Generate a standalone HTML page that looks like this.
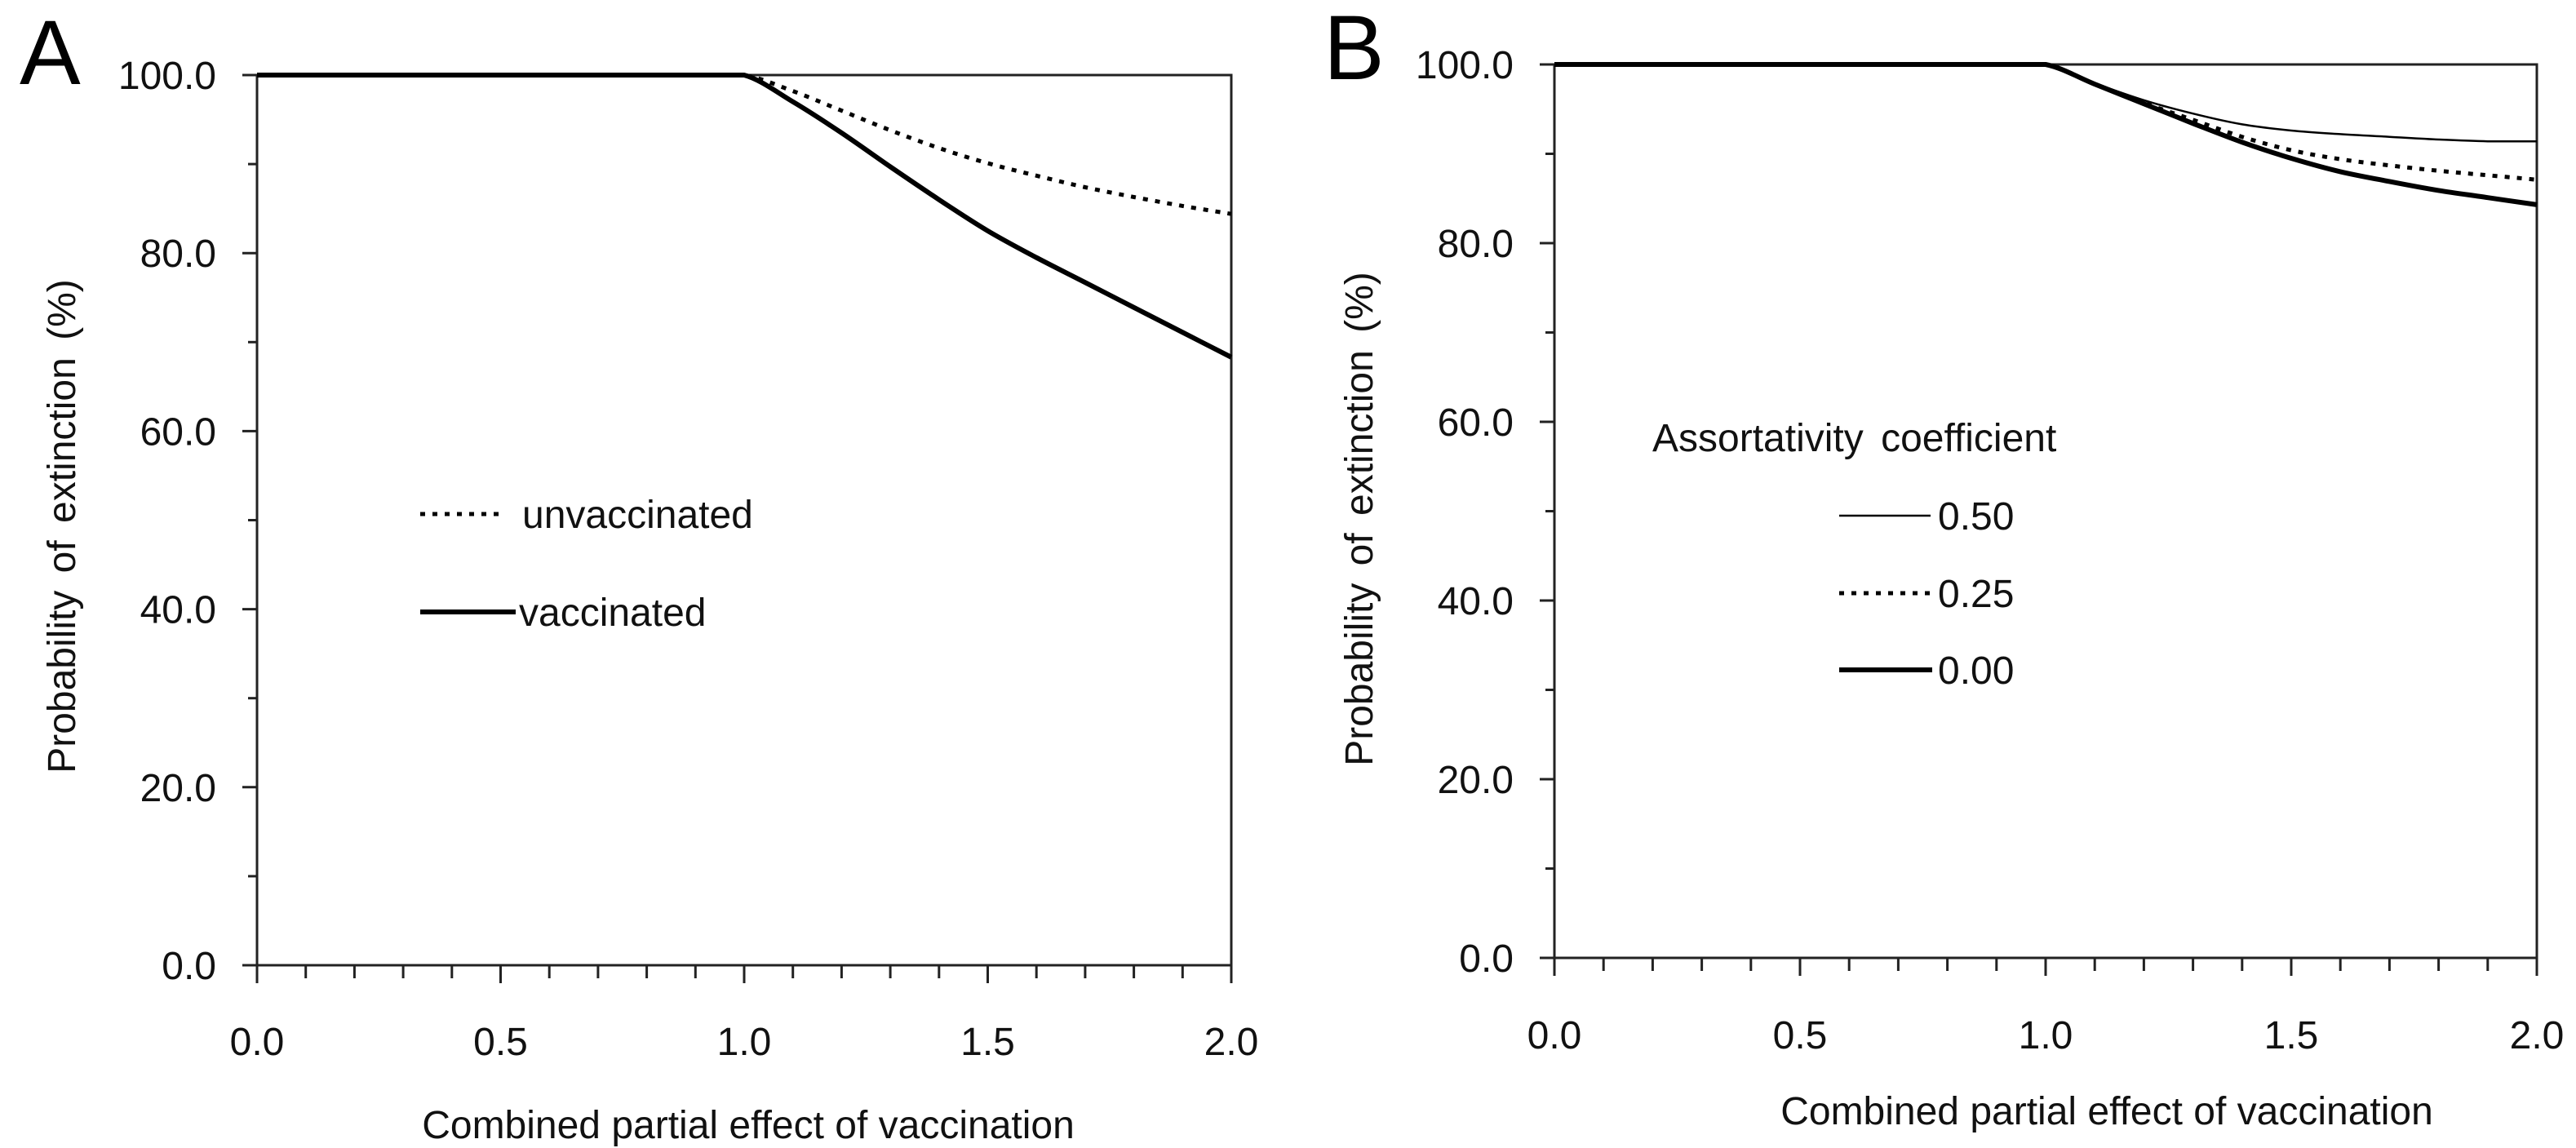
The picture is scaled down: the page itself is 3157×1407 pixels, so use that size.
<!DOCTYPE html>
<html><head><meta charset="utf-8">
<style>
html,body{margin:0;padding:0;background:#fff;}
svg{display:block;font-family:"Liberation Sans",Arial,sans-serif;}
</style></head>
<body>
<svg id="chart" width="3157" height="1407" viewBox="0 0 3157 1407"></svg>
<script>
const xValues = [0,0.1,0.2,0.3,0.4,0.5,0.6,0.7,0.8,0.9,1.0,1.1,1.2,1.3,1.4,1.5,1.6,1.7,1.8,1.9,2.0];
const aVaccinated = [100,100,100,100,100,100,100,100,100,100,100,97.0,93.5,89.7,86.0,82.5,79.5,76.7,73.9,71.1,68.3];
const aUnvaccinated = [100,100,100,100,100,100,100,100,100,100,100,98.2,96.0,93.8,91.8,90.1,88.7,87.4,86.3,85.3,84.4];
const bAssort050 = [100,100,100,100,100,100,100,100,100,100,100,97.9,96.0,94.5,93.3,92.6,92.2,91.9,91.6,91.4,91.4];
const bAssort025 = [100,100,100,100,100,100,100,100,100,100,100,97.8,95.7,93.8,91.9,90.4,89.4,88.7,88.1,87.6,87.1];
const bAssort000 = [100,100,100,100,100,100,100,100,100,100,100,97.8,95.6,93.4,91.3,89.5,88.0,86.9,85.9,85.1,84.3];
const yTickLabels = ["0.0","20.0","40.0","60.0","80.0","100.0"];
const xTickLabels = ["0.0","0.5","1.0","1.5","2.0"];

const NS = "http://www.w3.org/2000/svg";
const svg = document.getElementById("chart");
function mk(tag, attrs, parent){
  const e = document.createElementNS(NS, tag);
  for (const k in attrs) e.setAttribute(k, attrs[k]);
  (parent||svg).appendChild(e);
  return e;
}
function clamp(v,a,b){ const lo=Math.min(a,b), hi=Math.max(a,b); return Math.max(lo, Math.min(hi, v)); }
function smoothPath(pts){
  let d = "M" + pts[0][0].toFixed(1) + "," + pts[0][1].toFixed(1);
  for (let i = 0; i < pts.length - 1; i++) {
    const p0 = pts[Math.max(0,i-1)], p1 = pts[i], p2 = pts[i+1], p3 = pts[Math.min(pts.length-1,i+2)];
    const c1x = p1[0] + (p2[0]-p0[0])/6, c1y = clamp(p1[1] + (p2[1]-p0[1])/6, p1[1], p2[1]);
    const c2x = p2[0] - (p3[0]-p1[0])/6, c2y = clamp(p2[1] - (p3[1]-p1[1])/6, p1[1], p2[1]);
    d += " C" + c1x.toFixed(1) + "," + c1y.toFixed(1) + " " + c2x.toFixed(1) + "," + c2y.toFixed(1) + " " + p2[0].toFixed(1) + "," + p2[1].toFixed(1);
  }
  return d;
}

function panel(p){
  const g = mk("g", {});
  
  
  const xs = v => p.L + (v - 0) / 2 * (p.R - p.L);
  const ys = v => p.B - v / 100 * (p.B - p.T);
  const box = mk("rect", {x:p.L, y:p.T, width:p.R-p.L, height:p.B-p.T, fill:"none", stroke:"#222", "stroke-width":3}, g);
  
  
  for (let v = 0; v <= 100; v += 10) {
    const major = v % 20 === 0;
    const t = mk("line", {x1:p.L - (major?18:11), x2:p.L, y1:ys(v), y2:ys(v), stroke:"#222", "stroke-width":3}, g);
    
    
  }
  yTickLabels.forEach(s => {
    const v = parseFloat(s);
    const t = mk("text", {x:p.L - 50, y:ys(v) + 17, "text-anchor":"end", "font-size":48, fill:"#111"}, g);
    t.textContent = s;
    
    
  });
  for (let i = 0; i <= 20; i++) {
    const v = i / 10;
    const major = i % 5 === 0;
    const t = mk("line", {x1:xs(v), x2:xs(v), y1:p.B, y2:p.B + (major?22:16), stroke:"#222", "stroke-width":3}, g);
    
    
  }
  xTickLabels.forEach(s => {
    const v = parseFloat(s);
    const t = mk("text", {x:xs(v), y:p.xLabY, "text-anchor":"middle", "font-size":48, fill:"#111"}, g);
    t.textContent = s;
    
    
  });
  const xt = mk("text", {x:p.xTitleX, y:p.xTitleY, "text-anchor":"middle", "font-size":48, fill:"#111"}, g);
  xt.textContent = "Combined partial effect of vaccination";
  
  
  const yt = mk("text", {x:0, y:0, "text-anchor":"middle", "font-size":48, fill:"#111", "word-spacing":"8",
    transform:"translate(" + p.yTitleX + "," + p.yTitleY + ") rotate(-90)"}, g);
  yt.textContent = "Probability of extinction (%)";
  
  
  const lt = mk("text", {x:p.letterX, y:p.letterY, "font-size":112, fill:"#000"}, g);
  lt.textContent = p.letter;
  
  
  p.series.forEach(s => {
    const pts = xValues.map((x, i) => [xs(x), ys(s.data[i])]);
    const attrs = {d:smoothPath(pts), fill:"none", stroke:"#000", "stroke-width":s.w, "stroke-linejoin":"round"};
    if (s.dash) attrs["stroke-dasharray"] = s.dash;
    const path = mk("path", attrs, g);
    
    
  });
  return g;
}

panel({id:"panel-a", letter:"A", L:315, R:1509, T:92, B:1183, xLabY:1293, xTitleX:917, xTitleY:1395,
  yTitleX:92, yTitleY:645, letterX:24, letterY:103,
  series:[{data:aUnvaccinated, w:5, dash:"6 9", name:"line-unvaccinated"},
          {data:aVaccinated, w:6, name:"line-vaccinated"}]});
panel({id:"panel-b", letter:"B", L:1905, R:3109, T:79, B:1174, xLabY:1285, xTitleX:2582, xTitleY:1378,
  yTitleX:1682, yTitleY:636, letterX:1622, letterY:97,
  series:[{data:bAssort050, w:2.5, name:"line-assort-050"},
          {data:bAssort025, w:5, dash:"6 9", name:"line-assort-025"},
          {data:bAssort000, w:6, name:"line-assort-000"}]});

function legendLine(x1,x2,y,w,dash,name){
  const a = {x1:x1,x2:x2,y1:y,y2:y,stroke:"#000","stroke-width":w};
  if (dash) a["stroke-dasharray"] = dash;
  const l = mk("line", a);
  
  
}
function legendText(x,y,s,name){
  const t = mk("text", {x:x, y:y, "font-size":48, fill:"#111"});
  t.textContent = s;
  
  
}
legendLine(515,620,630,5,"6 9","legend-unvaccinated-swatch");
legendText(640,647,"unvaccinated","legend-unvaccinated-label");
legendLine(515,632,750,6,null,"legend-vaccinated-swatch");
legendText(636,767,"vaccinated","legend-vaccinated-label");

const bt = mk("text", {x:2025, y:553, "font-size":48, fill:"#111", "word-spacing":"8"});
bt.textContent = "Assortativity coefficient";


legendLine(2254,2366,632,2.5,null,"legend-050-swatch");
legendText(2375,649,"0.50","legend-050-label");
legendLine(2254,2366,727,5,"6 9","legend-025-swatch");
legendText(2375,744,"0.25","legend-025-label");
legendLine(2254,2368,821,6,null,"legend-000-swatch");
legendText(2375,838,"0.00","legend-000-label");
</script>
</body></html>
